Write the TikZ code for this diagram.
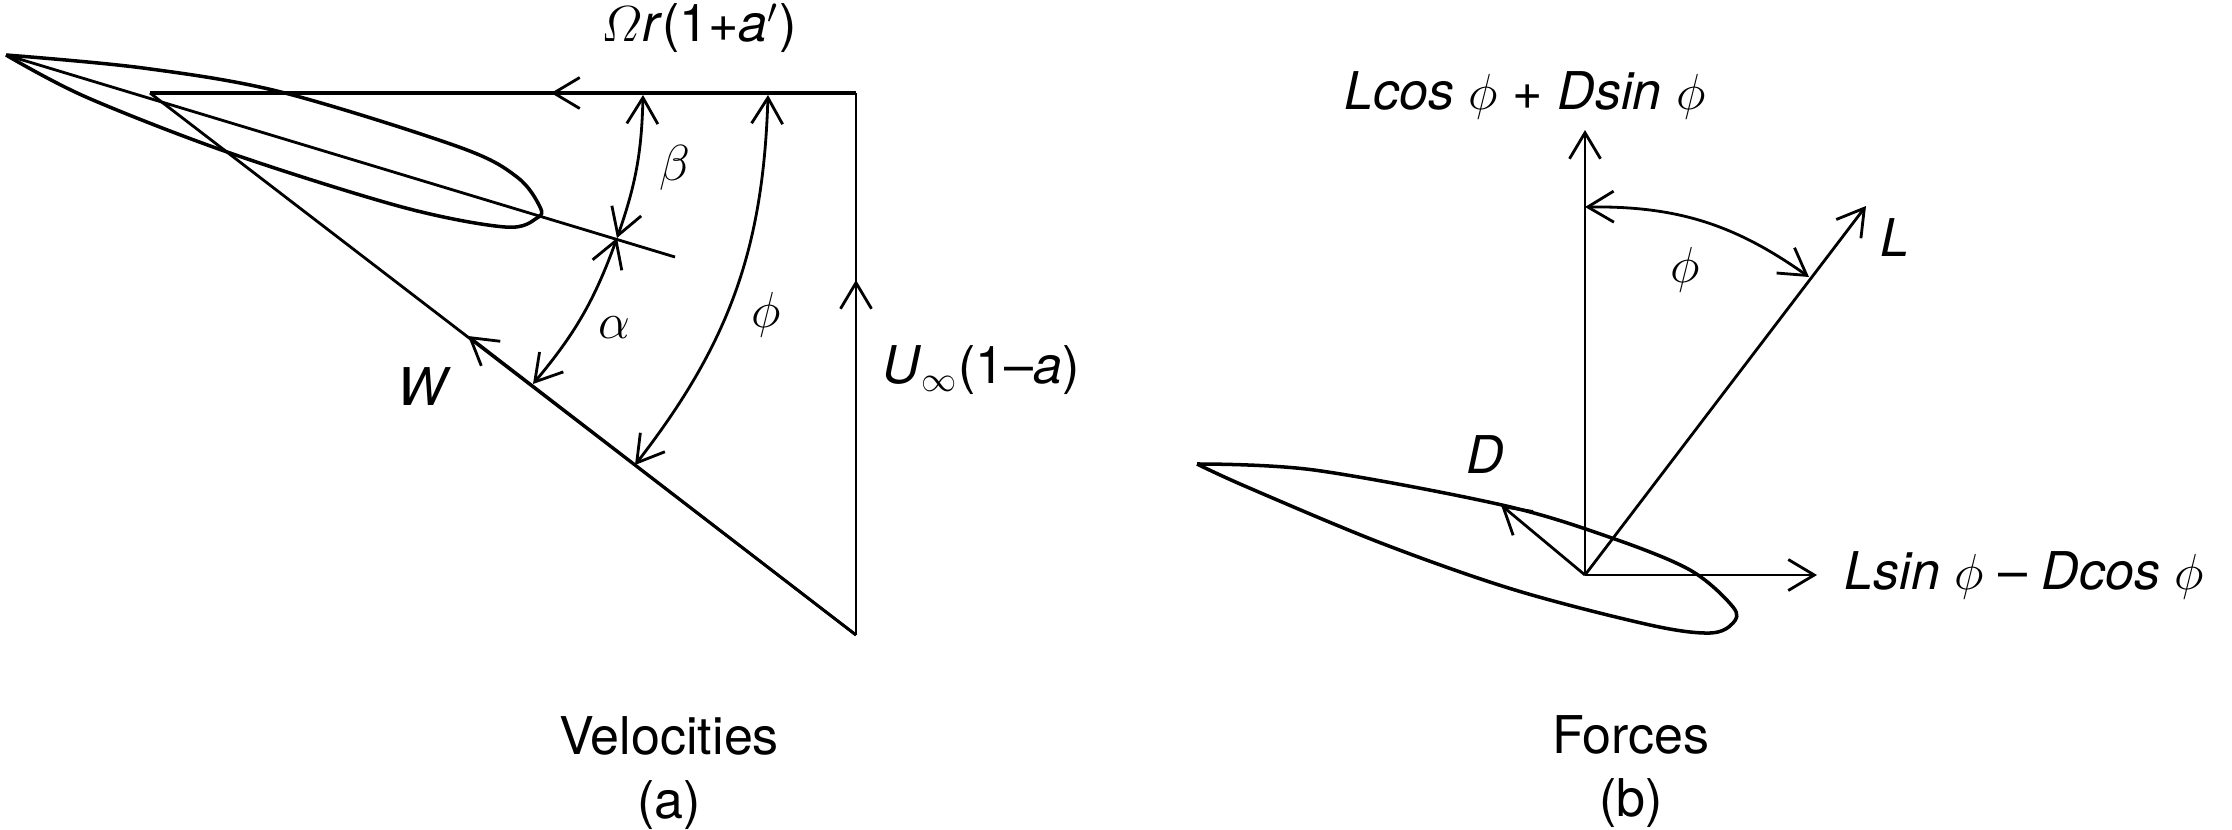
\documentclass[tikz,border=0pt]{standalone}
\usepackage{amsmath}
\usepackage{fontspec}
\setmainfont{TeX Gyre Heros}
\usetikzlibrary{arrows.meta}
\tikzset{
	lbl/.style={inner sep=0pt, font=\fontsize{14.8}{18}\selectfont},
	vec/.style={-{Straight Barb[length=0.26cm,width=0.31cm]}, line width=0.8pt},
	ang/.style={{Straight Barb[length=0.26cm,width=0.31cm]}-{Straight Barb[length=0.26cm,width=0.31cm]}, line width=0.8pt},
	foil/.style={line width=1pt, line join=round}
}

\begin{document}
\begin{tikzpicture}[x=0.01cm, y=-0.01cm]
\useasboundingbox (0,0) rectangle (2232,830);
% velocities
\draw[foil] plot[smooth, tension=0.55] coordinates {(6,55) (143,68) (281,92) (459,147) (517,177) (540,207) (537,218) (505,227) (402,207) (230,153) (86,97) (6,55)};
\coordinate (chordA) at (6,55);
\coordinate (chordB) at (675,257);
\coordinate (apex) at (150,93);
\coordinate (corner) at (856,93);
\coordinate (bottom) at (856,635);
\coordinate (rotTip) at (551,93);
\coordinate (uTip) at (856,280);
\coordinate (wTip) at (468,336);
\coordinate (betaTop) at (643,95);
\coordinate (cross) at (617,238);
\coordinate (alphaEnd) at (533,384);
\coordinate (phiTop) at (768,95);
\coordinate (phiEnd) at (635,465);
\draw[line width=0.8pt] (chordA) -- (chordB);
\draw[line width=1pt] (corner) -- (apex);
\path[vec] (corner) edge (rotTip);
\draw[line width=0.8pt] (bottom) -- (corner);
\path[vec] (bottom) edge (uTip);
\draw[line width=0.8pt] (apex) -- (bottom);
\path[vec] (bottom) edge (wTip);
\path[ang]
(cross) edge[bend right=9] (betaTop)
(cross) edge[bend left=10] (alphaEnd)
(phiTop) edge[bend left=18] (phiEnd);
\node[lbl] (rotLbl) at (699,28) {$\varOmega$\textit{r}(1+\textit{a}$'$)};
\node[lbl] (betaLbl) at (675,168) {$\beta$};
\node[lbl] (alphaLbl) at (614,328) {$\alpha$};
\node[lbl] (phiLbl) at (766,315) {$\phi$};
\node[lbl] (wLbl) at (424,387) {\textit{W}};
\node[lbl, anchor=west] (uLbl) at (882,370) {\textit{U}$_{\infty}$(1–\textit{a})};
\node[lbl] (velLbl) at (669,736) {Velocities};
\node[lbl] (aLbl) at (669,805) {(a)};
% forces
\draw[foil] plot[smooth, tension=0.55] coordinates {(1197,464) (1314,470) (1502,505) (1609,537) (1690,570) (1733,607) (1733,623) (1710,633) (1650,625) (1515,590) (1381,543) (1247,487) (1197,464)};
\coordinate (origin) at (1585,575);
\coordinate (upTip) at (1585,130);
\coordinate (liftTip) at (1866,206);
\coordinate (sideTip) at (1817,575);
\coordinate (dragTip) at (1501,505);
\coordinate (phiA) at (1585,207);
\coordinate (phiB) at (1809,277);
\path[vec]
(origin) edge (upTip)
(origin) edge (liftTip)
(origin) edge (sideTip)
(origin) edge (dragTip);
\path[ang] (phiA) edge[bend left=18] (phiB);
\node[lbl] (upLbl) at (1525,95) {\textit{Lcos} $\phi$ + \textit{Dsin} $\phi$};
\node[lbl] (liftLbl) at (1895,238) {\textit{L}};
\node[lbl] (phiLblB) at (1685,270) {$\phi$};
\node[lbl] (dragLbl) at (1485,455) {\textit{D}};
\node[lbl, anchor=west] (sideLbl) at (1844,575) {\textit{Lsin} $\phi$ – \textit{Dcos} $\phi$};
\node[lbl] (forLbl) at (1631,735) {Forces};
\node[lbl] (bLbl) at (1631,803) {(b)};
\end{tikzpicture}
\end{document}
